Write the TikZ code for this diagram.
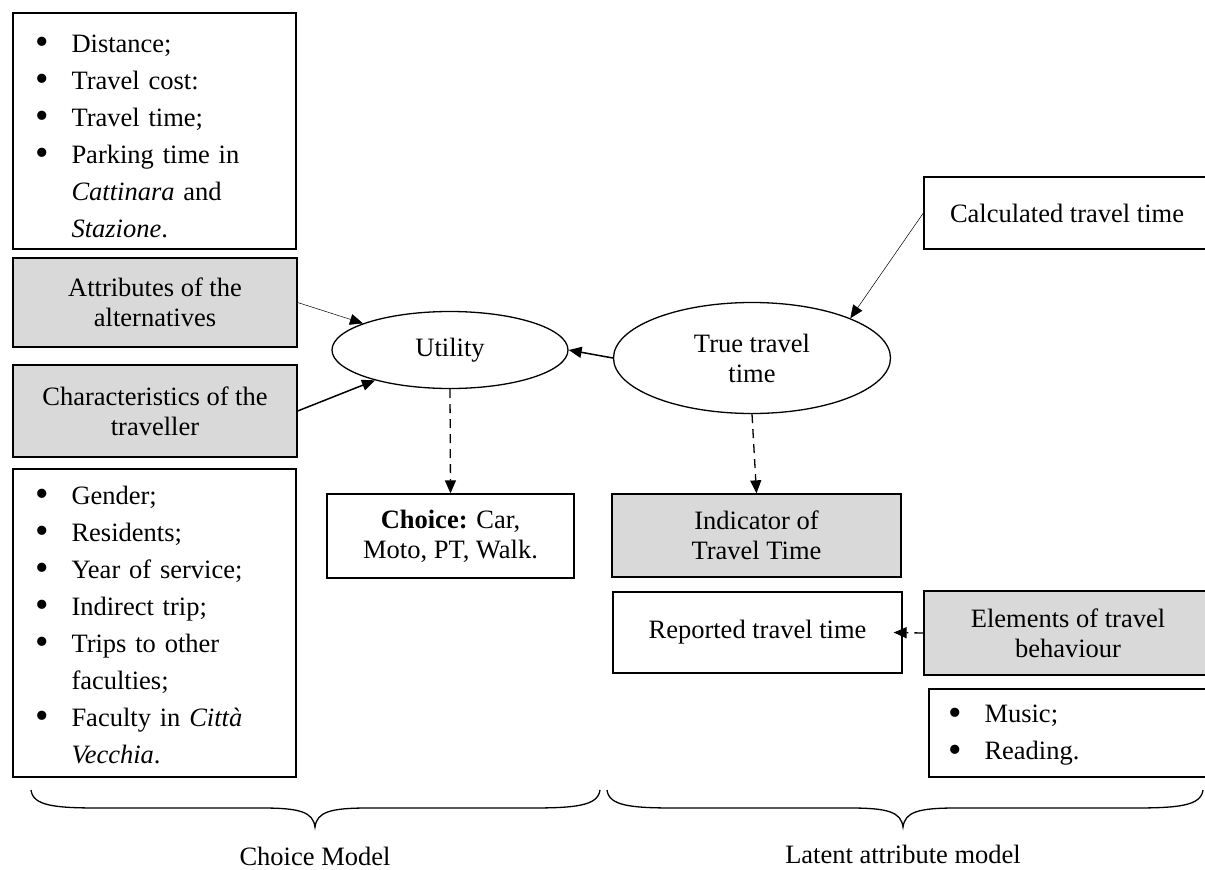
\documentclass[tikz,border=0pt]{standalone}
\usepackage{fontspec}
\usepackage{graphicx}
\setmainfont{Liberation Serif}
\usetikzlibrary{arrows.meta,shapes.geometric}
\definecolor{boxgray}{HTML}{D9D9D9}
\newcommand\bigbul{\raisebox{-0.09em}{\scalebox{1.45}{\textbullet}}}
\newcommand\bitem[1]{\makebox[36pt][l]{\bigbul}#1}
\newcommand\bcont[1]{\hspace*{36pt}#1}
\begin{document}
\begin{tikzpicture}[x=1pt,y=-1pt,
  font=\fontsize{26.5}{30}\selectfont,
  box/.style={draw, line width=1.3pt, inner sep=0pt, align=center},
  shaded/.style={box, fill=boxgray},
  oval/.style={draw, ellipse, line width=1.3pt, inner sep=0pt, align=center},
  listbox/.style={draw, line width=1.3pt, align=left, inner ysep=0pt,
    font=\fontsize{26.5}{37}\selectfont},
  tip/.style={-{Triangle[length=13pt,width=11pt]}},
  thinarrow/.style={tip, line width=0.5pt},
  thickarrow/.style={tip, line width=1.5pt},
  dasharrow/.style={tip, line width=1.3pt, dash pattern=on 9pt off 6pt},
  bracestyle/.style={line width=1.3pt},
  caption/.style={inner sep=0pt}
]
\useasboundingbox (0,0) rectangle (1205,870);
\clip (0,0) rectangle (1205,870);

% left column
\node[listbox, minimum width=283pt, minimum height=236pt, text width=238pt, inner xsep=22.5pt]
  (attrlist) at (154.5,131)
  {\rule{0pt}{28pt}\bitem{Distance;}\\ \bitem{Travel cost:}\\ \bitem{Travel time;}\\ \bitem{Parking time in}\\
   \bcont{\textit{Cattinara} and}\\ \bcont{\textit{Stazione}.}};
\node[shaded, minimum width=284pt, minimum height=89pt] (attr) at (155,302.5)
  {Attributes of the\\alternatives};
\node[shaded, minimum width=284pt, minimum height=92pt] (char) at (155,411)
  {Characteristics of the\\traveller};
\node[listbox, minimum width=283pt, minimum height=308pt, text width=238pt, inner xsep=22.5pt]
  (charlist) at (154.5,623)
  {\rule{0pt}{22pt}\bitem{Gender;}\\ \bitem{Residents;}\\ \bitem{Year of service;}\\ \bitem{Indirect trip;}\\
   \bitem{Trips to other}\\ \bcont{faculties;}\\ \bitem{Faculty in \textit{Città}}\\ \bcont{\textit{Vecchia}.}};

% middle
\node[oval, minimum width=236pt, minimum height=77pt] (util) at (450,350) {Utility};
\node[box, minimum width=247pt, minimum height=84pt] (choice) at (450.5,536)
  {\textbf{Choice:} Car,\\Moto, PT, Walk.};

% right
\node[oval, minimum width=277pt, minimum height=111pt] (true) at (752,358) {True travel\\time};
\node[box, minimum width=286pt, minimum height=72pt] (calc) at (1067,213) {Calculated travel time};
\node[shaded, minimum width=289pt, minimum height=83pt] (ind) at (756.5,535.5)
  {Indicator of\\Travel Time};
\node[box, minimum width=289pt, minimum height=81pt] (rep) at (757.5,632.5) {Reported travel time};
\node[shaded, minimum width=288pt, minimum height=84pt] (elem) at (1068,633)
  {Elements of travel\\behaviour};
\node[listbox, minimum width=290pt, minimum height=88pt, text width=251pt, inner xsep=19.5pt]
  (elemlist) at (1074,733)
  {\rule{0pt}{22pt}\bitem{Music;}\\ \bitem{Reading.}};

% connectors
\draw[thinarrow] (attr.east) -- (util.163);
\draw[thickarrow] (char.east) -- (util.202);
\draw[thickarrow] (true.west) -- (util.east);
\draw[thinarrow] (calc.west) -- (true.22.5);
\draw[dasharrow] (util.south) -- (choice.north);
\draw[dasharrow] (true.south) -- (ind.north);
\coordinate (reptip) at ([xshift=-9pt]rep.east);
\draw[dasharrow] (elem.west) -- (reptip);

% braces
\draw[bracestyle] (31,790) .. controls (33,806) and (55,808) .. (100,808)
  -- (262,808) .. controls (300,808) and (313,812) .. (315,827)
  .. controls (317,812) and (330,808) .. (368,808)
  -- (530,808) .. controls (575,808) and (598,806) .. (600,790);
\draw[bracestyle] (607,790) .. controls (609,806) and (631,808) .. (676,808)
  -- (850,808) .. controls (888,808) and (901,812) .. (903,827)
  .. controls (905,812) and (918,808) .. (956,808)
  -- (1133,808) .. controls (1178,808) and (1201,806) .. (1203,790);

\node[caption] (cmodel) at (315,856) {Choice Model};
\node[caption] (lmodel) at (903,854) {Latent attribute model};
\end{tikzpicture}
\end{document}
